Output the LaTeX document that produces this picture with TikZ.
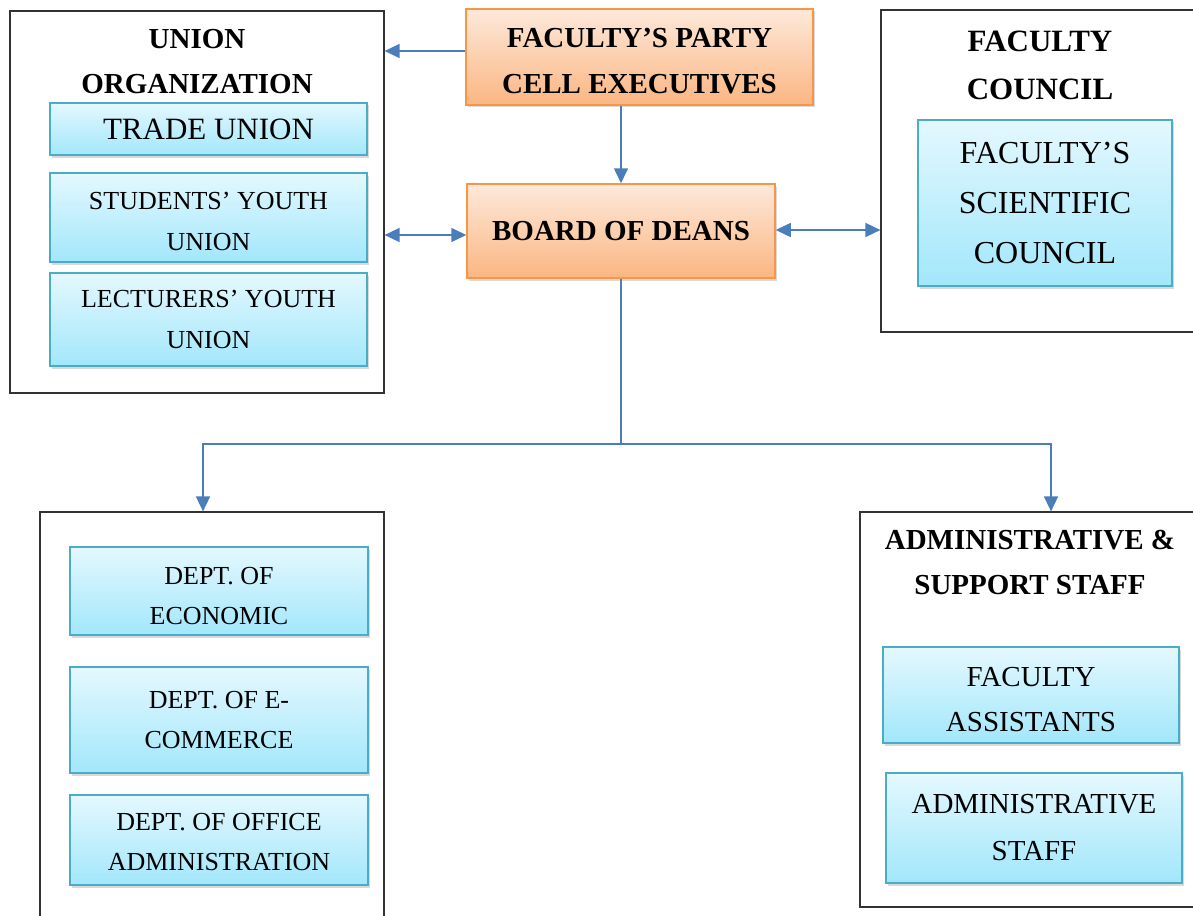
\documentclass[tikz,border=0pt]{standalone}
\usepackage{fontspec}
\setmainfont{Liberation Serif}
\usetikzlibrary{positioning}
\usetikzlibrary{arrows.meta,shadows}

\definecolor{orangeline}{HTML}{F79646}
\definecolor{orangetop}{HTML}{FDE9DA}
\definecolor{orangebot}{HTML}{FBB682}
\definecolor{blueline}{HTML}{4BACC6}
\definecolor{bluetop}{HTML}{E4F8FE}
\definecolor{bluebot}{HTML}{A2E7FB}
\definecolor{arrowblue}{HTML}{4A7EBB}

\newcommand{\textdown}[1]{\rule{0pt}{#1}}

\begin{document}
\begin{tikzpicture}[x=1pt,y=-1pt,
 outerbox/.style={draw=black!80,line width=1.2pt,inner sep=0pt},
 titletext/.style={align=center,font=\bfseries\fontsize{29}{45}\selectfont},
 orangebox/.style={draw=orangeline,line width=1.5pt,top color=orangetop,bottom color=orangebot,
   align=center,inner sep=0pt,font=\bfseries\fontsize{29}{46}\selectfont,
   drop shadow={shadow xshift=1.5pt,shadow yshift=-2.5pt,opacity=0.3}},
 bluebox/.style={draw=blueline,line width=1.5pt,top color=bluetop,bottom color=bluebot,
   align=center,inner sep=0pt,font=\fontsize{26}{41}\selectfont,
   drop shadow={shadow xshift=1.5pt,shadow yshift=-2.5pt,opacity=0.3}},
 link/.style={draw=arrowblue,line width=1.6pt,-{Triangle[length=15pt,width=14pt]}},
 both/.style={{Triangle[length=15pt,width=14pt]}-{Triangle[length=15pt,width=14pt]}}]
 \clip (0,0) rectangle (1193,915);

 % union organization
 \node[outerbox,minimum width=374,minimum height=382] (unionbox) at (197,202) {};
 \node[titletext] (uniontitle) at (197,62) {UNION\\ORGANIZATION};
 \node[bluebox,font=\fontsize{31}{46}\selectfont,minimum width=317,minimum height=52] (trade) at (208.5,129) {TRADE UNION};
 \node[bluebox,minimum width=317,minimum height=89] (students) at (208.5,217.5) {\textdown{25pt}STUDENTS’ YOUTH\\UNION};
 \node[bluebox,minimum width=317,minimum height=93] (lecturers) at (208.5,319.5) {LECTURERS’ YOUTH\\UNION};

 % party cell and deans
 \node[orangebox,minimum width=347,minimum height=96] (party) at (639.5,57) {\textdown{27pt}FACULTY’S PARTY\\CELL EXECUTIVES};
 \node[orangebox,minimum width=308,minimum height=94] (deans) at (621,231) {BOARD OF DEANS};

 % faculty council
 \node[outerbox,minimum width=362,minimum height=322] (councilbox) at (1062,171) {};
 \node[titletext,font=\bfseries\fontsize{31}{48}\selectfont] (counciltitle) at (1040,65) {FACULTY\\COUNCIL};
 \node[bluebox,font=\fontsize{32}{50}\selectfont,minimum width=254,minimum height=166] (scientific) at (1045,203) {FACULTY’S\\SCIENTIFIC\\COUNCIL};

 % departments
 \node[outerbox,minimum width=344,minimum height=440] (deptbox) at (212,732) {};
 \node[bluebox,font=\fontsize{26}{40}\selectfont,minimum width=298,minimum height=88] (economic) at (219,591) {\textdown{27pt}DEPT. OF\\ECONOMIC};
 \node[bluebox,font=\fontsize{26}{40}\selectfont,minimum width=298,minimum height=106] (ecommerce) at (219,720) {DEPT. OF E-\\COMMERCE};
 \node[bluebox,font=\fontsize{26}{40}\selectfont,minimum width=298,minimum height=90] (office) at (219,840) {\textdown{21pt}DEPT. OF OFFICE\\ADMINISTRATION};

 % administrative & support staff
 \node[outerbox,minimum width=382,minimum height=395] (staffbox) at (1051,709.5) {};
 \node[titletext] (stafftitle) at (1030,562) {ADMINISTRATIVE \&\\SUPPORT STAFF};
 \node[bluebox,font=\fontsize{29}{45}\selectfont,minimum width=296,minimum height=96] (assistants) at (1031,695) {\textdown{28pt}FACULTY\\ASSISTANTS};
 \node[bluebox,font=\fontsize{29}{47}\selectfont,minimum width=296,minimum height=110] (adminstaff) at (1034,828) {ADMINISTRATIVE\\STAFF};

 % connectors
 \draw[link] ([yshift=6pt]party.west) -- ([yshift=6pt]party.west -| unionbox.east);
 \draw[link] (party.south -| deans.north) -- (deans.north);
 \draw[link,both] ([yshift=-4pt]deans.west) -- ([yshift=-4pt]deans.west -| unionbox.east);
 \draw[link,both] ([yshift=1pt]deans.east) -- ([yshift=1pt]deans.east -| councilbox.west);
 \coordinate (split) at (deans.south |- 0,444);
 \draw[draw=arrowblue,line width=1.6pt] (deans.south) -- (split);
 \draw[link] (split) -| ([xshift=-9pt]deptbox.north);
 \draw[link] (split) -| (staffbox.north);
\end{tikzpicture}
\end{document}
